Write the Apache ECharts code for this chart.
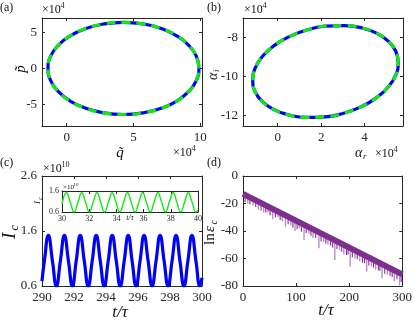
<!DOCTYPE html>
<html><head><meta charset="utf-8">
<script src="https://cdn.jsdelivr.net/npm/echarts@6/dist/echarts.min.js"></script>
<style>html,body{margin:0;padding:0;background:#fff}#c{width:415px;height:325px}</style>
</head><body><div id="c"></div>
<script>
// ---- Data ----
// (a) phase-space orbit, units of 1e4
const aQ = [9.90, 9.71, 9.14, 8.24, 7.08, 5.71, 4.25, 2.79, 1.43, 0.26, -0.64, -1.21, -1.40, -1.21, -0.64, 0.26, 1.43, 2.79, 4.25, 5.71, 7.08, 8.24, 9.14, 9.71, 9.90, 9.71];
const aP = [0.00, 1.66, 3.20, 4.53, 5.54, 6.18, 6.40, 6.18, 5.54, 4.53, 3.20, 1.66, 0.00, -1.66, -3.20, -4.53, -5.54, -6.18, -6.40, -6.18, -5.54, -4.53, -3.20, -1.66, 0.00, 1.66];
// (b) alpha orbit, units of 1e4
const bR = [5.55, 5.44, 5.10, 4.57, 3.88, 3.07, 2.20, 1.33, 0.53, -0.17, -0.70, -1.04, -1.15, -1.04, -0.70, -0.17, 0.53, 1.33, 2.20, 3.07, 3.88, 4.57, 5.10, 5.44, 5.55, 5.44];
const bI = [-9.30, -8.71, -8.20, -7.79, -7.51, -7.39, -7.42, -7.62, -7.96, -8.42, -8.97, -9.58, -10.20, -10.79, -11.30, -11.71, -11.99, -12.11, -12.08, -11.88, -11.54, -11.08, -10.53, -9.92, -9.30, -8.71];
// (c) I_c (units of 1e10) vs t/tau
const cT = [290.00, 290.15, 290.40, 290.65, 290.90, 291.15, 291.40, 291.65, 291.90, 292.14, 292.39, 292.64, 292.89, 293.14, 293.39, 293.64, 293.89, 294.14, 294.39, 294.64, 294.89, 295.14, 295.39, 295.63, 295.88, 296.13, 296.38, 296.63, 296.88, 297.13, 297.38, 297.63, 297.88, 298.13, 298.38, 298.62, 298.87, 299.12, 299.37, 299.62, 299.87, 300.00];
const cI = [0.69, 1.06, 1.52, 1.06, 0.60, 1.06, 1.52, 1.06, 0.60, 1.06, 1.52, 1.06, 0.60, 1.06, 1.52, 1.06, 0.60, 1.06, 1.52, 1.06, 0.60, 1.06, 1.52, 1.06, 0.60, 1.06, 1.52, 1.06, 0.60, 1.06, 1.52, 1.06, 0.60, 1.06, 1.52, 1.06, 0.60, 1.06, 1.52, 1.06, 0.60, 0.75];
// (c) inset
const inT = [30.00, 30.33, 30.61, 30.89, 31.17, 31.45, 31.73, 32.01, 32.29, 32.57, 32.85, 33.13, 33.41, 33.69, 33.97, 34.25, 34.53, 34.81, 35.09, 35.37, 35.65, 35.93, 36.21, 36.49, 36.77, 37.05, 37.33, 37.61, 37.89, 38.17, 38.45, 38.73, 39.01, 39.29, 39.57, 39.85, 40.00];
const inI = [0.98, 1.52, 1.06, 0.60, 1.06, 1.52, 1.06, 0.60, 1.06, 1.52, 1.06, 0.60, 1.06, 1.52, 1.06, 0.60, 1.06, 1.52, 1.06, 0.60, 1.06, 1.52, 1.06, 0.60, 1.06, 1.52, 1.06, 0.60, 1.06, 1.52, 1.06, 0.60, 1.06, 1.52, 1.06, 0.60, 0.68];
// (d) ln eps_c : band + downward spikes
const dBandT = [0, 300];
const dBandV = [-13, -71.5];
const spikeT = [9, 19, 29, 39, 47, 56, 66, 74, 80, 90, 98, 106, 115, 124, 132, 143, 152, 160, 173, 182, 190, 202, 211, 220, 233, 242, 250, 262, 272, 285, 295];
const spikeTop = [-14.8, -16.7, -18.7, -20.6, -22.2, -23.9, -25.9, -27.4, -28.6, -30.6, -32.1, -33.7, -35.4, -37.2, -38.7, -40.9, -42.6, -44.2, -46.7, -48.5, -50.1, -52.4, -54.1, -55.9, -58.4, -60.2, -61.8, -64.1, -66.0, -68.6, -70.5];
const spikeBot = [-20.1, -21.5, -24.5, -26.5, -26.5, -31.5, -30.0, -33.0, -37.0, -36.0, -40.0, -38.0, -46.5, -42.0, -45.0, -52.5, -48.0, -50.0, -61.0, -54.0, -57.0, -66.0, -60.0, -62.0, -69.5, -66.0, -68.0, -74.5, -72.0, -76.5, -79.5];
const shortT = [4, 13, 24, 34, 43, 51, 61, 70, 85, 94, 102, 110, 119, 128, 137, 147, 156, 165, 169, 177, 186, 195, 198, 206, 215, 225, 229, 237, 246, 255, 258, 267, 277, 281, 290, 298];
const shortTop = [-13.8, -15.5, -17.7, -19.6, -21.4, -22.9, -24.9, -26.7, -29.6, -31.3, -32.9, -34.5, -36.2, -38.0, -39.7, -41.7, -43.4, -45.2, -46.0, -47.5, -49.3, -51.0, -51.6, -53.2, -54.9, -56.9, -57.7, -59.2, -61.0, -62.7, -63.3, -65.1, -67.0, -67.8, -69.6, -71.1];
const shortBot = [-19.0, -20.5, -22.5, -25.0, -26.5, -28.5, -30.0, -32.0, -35.0, -37.5, -38.5, -40.5, -41.5, -43.5, -45.0, -47.5, -49.0, -50.5, -52.0, -53.0, -55.0, -57.5, -57.0, -59.0, -60.5, -63.0, -63.5, -65.0, -66.5, -68.5, -69.0, -71.0, -72.5, -73.5, -75.0, -77.0];

// tick labels
const aXTicks = [0, 5, 10], aYTicks = [-5, 0, 5];
const bXTicks = [0, 2, 4], bYTicks = [-12, -10, -8];
const cYTicks = [0.6, 1.6, 2.6], inYTicks = [0.6, 1.6];

// ---- Chart ----
const FONT = 'Liberation Serif';
const INK = '#262626';
const chart = echarts.init(document.getElementById('c'), null, {renderer: 'canvas'});

const grids = [
  {left: 42, top: 18, width: 160, height: 108},     // a
  {left: 243, top: 18, width: 160, height: 108},    // b
  {left: 42, top: 176, width: 160, height: 110},    // c
  {left: 243, top: 176, width: 161, height: 110},   // d
  {left: 62, top: 191, width: 136, height: 21, show: true, backgroundColor: '#fff', borderWidth: 0} // inset
];
const xAxes = [], yAxes = [];
function axes(g, xmin, xmax, xt, ymin, ymax, yt, fs, yfmt, xint, yint) {
  const lab = {fontFamily: FONT, fontSize: fs, color: INK};
  const base = {gridIndex: g, type: 'value', splitLine: {show: false},
    axisLine: {show: true, onZero: false, lineStyle: {color: INK, width: 1}}};
  const tick = (vals) => vals ? {inside: true, length: 3, customValues: vals, lineStyle: {color: INK}} :
                                {inside: true, length: 3, lineStyle: {color: INK}};
  const xb = Object.assign({}, base, {position: 'bottom', min: xmin, max: xmax,
    axisTick: tick(xt), axisLabel: Object.assign({margin: fs > 10 ? 5 : 3, customValues: xt}, lab)});
  const xtp = Object.assign({}, base, {position: 'top', min: xmin, max: xmax,
    axisTick: tick(xt), axisLabel: {show: false}});
  if (xint) { xb.interval = xint; xtp.interval = xint; delete xb.axisLabel.customValues; }
  const yl = Object.assign({}, base, {position: 'left', min: ymin, max: ymax,
    axisTick: tick(yt), axisLabel: Object.assign({margin: fs > 10 ? 5 : 3, customValues: yt, formatter: yfmt}, lab)});
  const yr = Object.assign({}, base, {position: 'right', min: ymin, max: ymax,
    axisTick: tick(yt), axisLabel: {show: false}});
  if (yint) { yl.interval = yint; yr.interval = yint; delete yl.axisLabel.customValues; }
  xAxes.push(xb, xtp); yAxes.push(yl, yr);
}
const f1 = v => v.toFixed(1);
axes(0, -1.85, 10.13, aXTicks, -8, 7, aYTicks, 13, null);
axes(1, -1.6, 5.77, bXTicks, -12.55, -7, bYTicks, 13, null);
axes(2, 290, 300, null, 0.6, 2.6, cYTicks, 13, f1, 2, null);
axes(3, 0, 300, null, -80, 0, null, 13, null, 100, 20);
axes(4, 30, 40, null, 0.6, 1.6, inYTicks, 8, f1, 2, null);

const zip = (a, b) => a.map((v, i) => [v, b[i]]);
const BLUE = '#0000ff', GREEN = '#14e614', PURPLE = '#7e2f8e', LILAC = '#b98ec8';
function spikeSeries(T, top, bot, color, w) {
  return {type: 'custom', xAxisIndex: 6, yAxisIndex: 6, data: T.map((t, i) => [t, top[i], bot[i]]),
    renderItem: (p, api) => {
      const a = api.coord([api.value(0), api.value(1)]), b = api.coord([api.value(0), api.value(2)]);
      return {type: 'line', shape: {x1: a[0], y1: a[1], x2: b[0], y2: b[1]}, style: {stroke: color, lineWidth: w}};
    }};
}
const series = [
  {type: 'line', xAxisIndex: 0, yAxisIndex: 0, data: zip(aQ, aP), smooth: true, showSymbol: false, lineStyle: {color: BLUE, width: 3.2}},
  {type: 'line', xAxisIndex: 0, yAxisIndex: 0, data: zip(aQ, aP), smooth: true, showSymbol: false, lineStyle: {color: GREEN, width: 3.2, type: [9, 6]}},
  {type: 'line', xAxisIndex: 2, yAxisIndex: 2, data: zip(bR, bI), smooth: true, showSymbol: false, lineStyle: {color: BLUE, width: 3.2}},
  {type: 'line', xAxisIndex: 2, yAxisIndex: 2, data: zip(bR, bI), smooth: true, showSymbol: false, lineStyle: {color: GREEN, width: 3.2, type: [9, 6]}},
  {type: 'line', xAxisIndex: 4, yAxisIndex: 4, data: zip(cT, cI), smooth: true, showSymbol: false, lineStyle: {color: BLUE, width: 3.2}},
  {type: 'line', xAxisIndex: 8, yAxisIndex: 8, data: zip(inT, inI), smooth: true, showSymbol: false, lineStyle: {color: GREEN, width: 1.4}, z: 5},
  spikeSeries(spikeT, spikeTop, spikeBot, LILAC, 1.4),
  spikeSeries(shortT, shortTop, shortBot, PURPLE, 1.1),
  {type: 'line', xAxisIndex: 6, yAxisIndex: 6, data: zip(dBandT, dBandV), showSymbol: false, lineStyle: {color: PURPLE, width: 6}}
];

// ---- text ----
function tx(x, y, s, o) {
  o = o || {};
  return {type: 'text', x: x, y: y, z: 100, style: {text: s, fill: o.fill || '#111', fontFamily: FONT,
    fontSize: o.size || 13, fontStyle: o.italic ? 'italic' : 'normal', align: o.align || 'left', verticalAlign: o.va || 'middle'}};
}
function rot(x, y, children) { return {type: 'group', x: x, y: y, rotation: Math.PI / 2, children: children}; }
const graphic = [
  tx(0, 8, '(a)', {size: 12}), tx(207, 8, '(b)', {size: 12}), tx(0, 163, '(c)', {size: 12}), tx(207, 163, '(d)', {size: 12}),
  // a
  tx(42, 10, '×10', {size: 12}), tx(60.5, 6, '4', {size: 8}),
  tx(173, 153, '×10', {size: 12}), tx(191.5, 149, '4', {size: 8}),
  tx(120, 153, 'q\u0303', {size: 15, italic: true, align: 'center'}),
  rot(21, 69, [tx(0, 0, 'p\u0303', {size: 15, italic: true, align: 'center'})]),
  // b
  tx(244, 10, '×10', {size: 12}), tx(262.5, 6, '4', {size: 8}),
  tx(375, 154, '×10', {size: 12}), tx(393.5, 150, '4', {size: 8}),
  tx(355, 153, 'α', {size: 14, italic: true}), tx(363, 157, 'r', {size: 9, italic: true}),
  rot(213, 74, [tx(-6, 0, 'α', {size: 14, italic: true}), tx(2, 4, 'i', {size: 9, italic: true})]),
  // c
  tx(43, 169, '×10', {size: 12}), tx(61.5, 165, '10', {size: 8}),
  tx(120, 313, 't/τ', {size: 17, italic: true, align: 'center'}),
  rot(10, 232, [tx(-7, 0, 'I', {size: 19, italic: true}), tx(1.5, 5, 'c', {size: 12, italic: true})]),
  // inset
  tx(63, 187, '×10', {size: 7}), tx(73.5, 185, '10', {size: 5}),
  tx(130, 218, 't/τ', {size: 8, italic: true, align: 'center'}),
  rot(38, 201, [tx(-3, 0, 'I', {size: 9, italic: true}), tx(1, 2.5, 'c', {size: 6, italic: true})]),
  // d
  tx(326, 311, 't/τ', {size: 17, italic: true, align: 'center'}),
  rot(210, 226, [tx(-19, 0, 'ln', {size: 15}), tx(-6, 0, 'ε', {size: 15, italic: true}), tx(1.5, 4, 'c', {size: 10, italic: true})])
];

chart.setOption({animation: false, backgroundColor: '#fff', grid: grids, xAxis: xAxes, yAxis: yAxes, series: series, graphic: graphic});
</script></body></html>
